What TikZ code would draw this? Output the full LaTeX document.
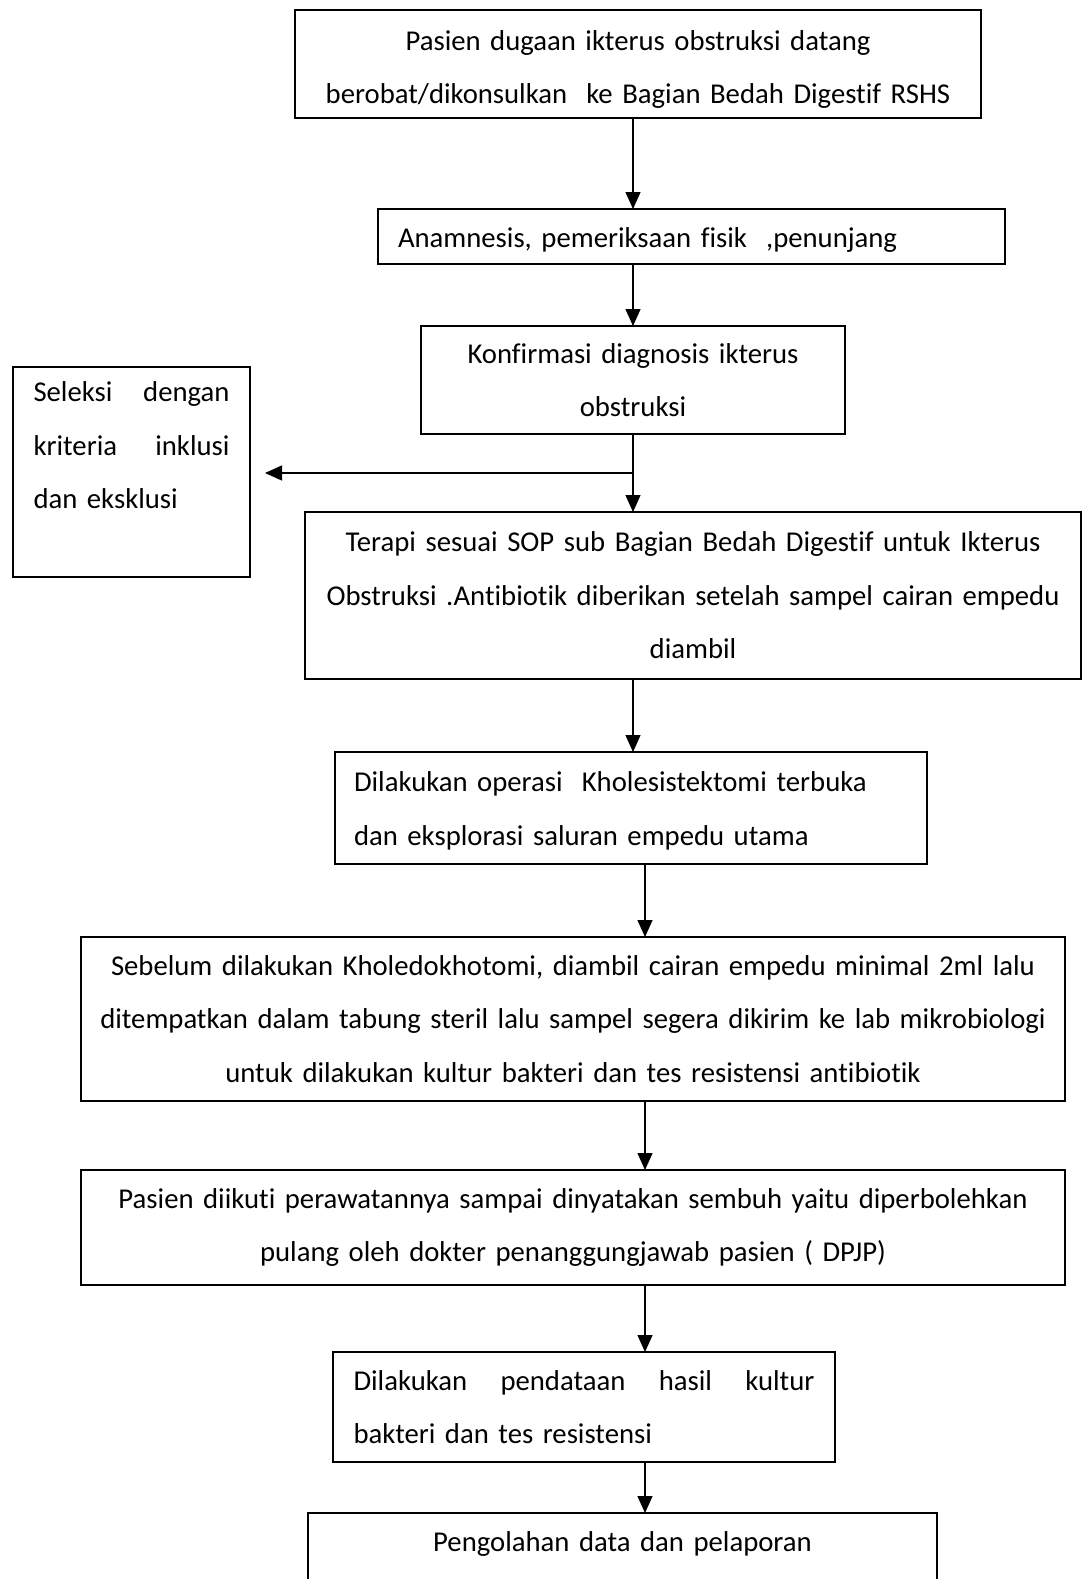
\documentclass[tikz,border=0pt]{standalone}
\usepackage{fontspec}
\setmainfont[Ligatures={NoCommon}]{Carlito}
\usetikzlibrary{arrows.meta}
\newcommand\jf{\hskip 0pt plus 1filll\relax}
\begin{document}
\begin{tikzpicture}[x=1pt,y=-1pt,
  box/.style={draw,line width=1.3pt,inner sep=0pt,outer sep=0pt,anchor=north west,
    font=\fontsize{28.7}{53.5}\selectfont},
  arr/.style={line width=1.3pt,-{Triangle[width=15pt,length=17pt]}}]
\clip (0,0) rectangle (1084,1579);
\fill[white] (0,0) rectangle (1084,1579);
\coordinate (xa) at (633,0);
\coordinate (xb) at (645,0);

\node[box,minimum width=686pt,minimum height=108pt,text width=670pt,align=center] (b1) at (295,10)
 {\rule{0pt}{31pt}Pasien dugaan ikterus obstruksi datang\\berobat/dikonsulkan\ \ ke Bagian Bedah Digestif RSHS};
\node[box,minimum width=627pt,minimum height=55pt,text width=587pt,align=left] (b2) at (378,209)
 {\rule{0pt}{26pt}Anamnesis, pemeriksaan fisik\ \ ,penunjang};
\node[box,minimum width=424pt,minimum height=108pt,text width=400pt,align=center] (b3) at (421,326)
 {Konfirmasi diagnosis ikterus\\obstruksi};
\node[box,minimum width=237pt,minimum height=210pt,text width=196pt,align=left] (sel) at (13,367)
 {Seleksi\jf dengan\\kriteria\jf inklusi\\dan eksklusi\\\mbox{}};
\node[box,minimum width=776pt,minimum height=167pt,text width=766pt,align=center] (b4) at (305,512)
 {Terapi sesuai SOP sub Bagian Bedah Digestif untuk Ikterus\\Obstruksi .Antibiotik diberikan setelah sampel cairan empedu\\diambil};
\node[box,minimum width=592pt,minimum height=112pt,text width=554pt,align=left] (b5) at (335,752)
 {\rule{0pt}{26pt}Dilakukan operasi\ \ Kholesistektomi terbuka\\dan eksplorasi saluran empedu utama};
\node[box,minimum width=984pt,minimum height=164pt,text width=975pt,align=center] (b6) at (81,937)
 {Sebelum dilakukan Kholedokhotomi, diambil cairan empedu minimal 2ml lalu\\ditempatkan dalam tabung steril lalu sampel segera dikirim ke lab mikrobiologi\\untuk dilakukan kultur bakteri dan tes resistensi antibiotik};
\node[box,minimum width=984pt,minimum height=115pt,text width=975pt,align=center] (b7) at (81,1170)
 {Pasien diikuti perawatannya sampai dinyatakan sembuh yaitu diperbolehkan\\pulang oleh dokter penanggungjawab pasien ( DPJP)};
\node[box,minimum width=502pt,minimum height=110pt,text width=461pt,align=left] (b8) at (333,1352)
 {Dilakukan\jf pendataan\jf hasil\jf kultur\\bakteri dan tes resistensi};
\node[box,minimum width=629pt,minimum height=110pt,text width=600pt,align=center] (b9) at (308,1513)
 {Pengolahan data dan pelaporan\\\mbox{}};

\draw[arr] (b1.south -| xa) -- (b2.north -| xa);
\draw[arr] (b2.south -| xa) -- (b3.north -| xa);
\draw[arr] (b3.south -| xa) -- (b4.north -| xa);
\coordinate (br) at (633,473);
\draw[arr,shorten >=15pt] (br) -- (sel.east |- br);
\draw[arr] (b4.south -| xa) -- (b5.north -| xa);
\draw[arr] (b5.south -| xb) -- (b6.north -| xb);
\draw[arr] (b6.south -| xb) -- (b7.north -| xb);
\draw[arr] (b7.south -| xb) -- (b8.north -| xb);
\draw[arr] (b8.south -| xb) -- (b9.north -| xb);
\end{tikzpicture}
\end{document}
